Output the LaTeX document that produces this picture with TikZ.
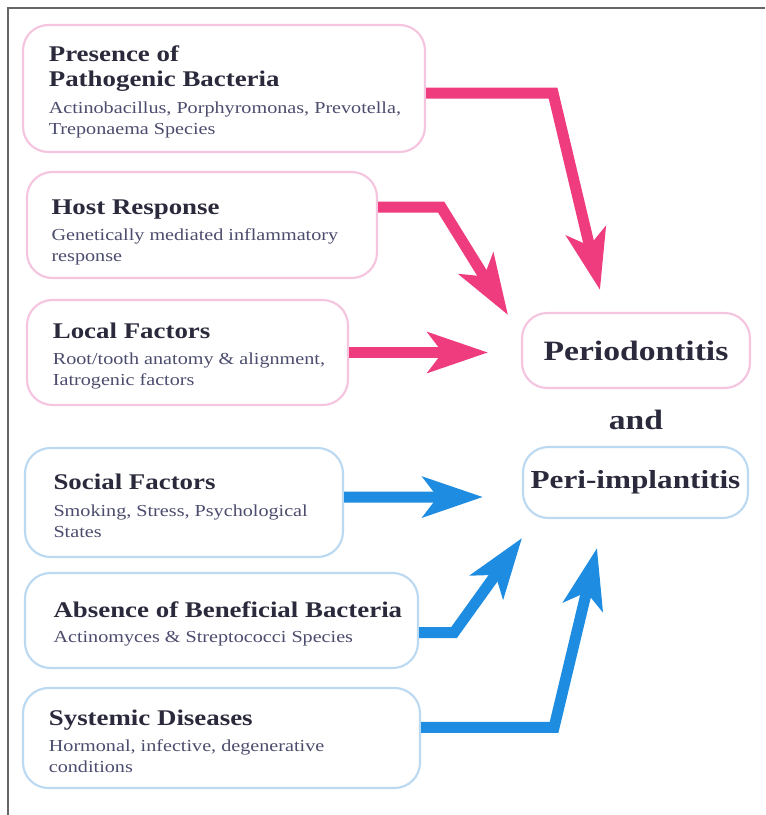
\documentclass[tikz,border=0pt]{standalone}
\usepackage{fontspec}
\setmainfont{Liberation Serif}[FakeStretch=1.2]
\usepackage{tikz}
\usetikzlibrary{positioning,calc,arrows.meta}
\usepackage{xcolor}
\definecolor{pinkline}{HTML}{F5C4DE}
\definecolor{blueline}{HTML}{BCD9F2}
\definecolor{pinkarr}{HTML}{EE3C7E}
\definecolor{bluearr}{HTML}{1E8CE0}
\definecolor{titlecol}{HTML}{2A2A3C}
\definecolor{subcol}{HTML}{4C4C6E}
\newcommand{\factitle}[1]{{\fontsize{16.8}{19}\selectfont\bfseries\color{titlecol}#1}}

\begin{document}
\begin{tikzpicture}[x=0.75pt, y=-0.75pt,
  factor/.style={draw, line width=1.6pt, rounded corners=19pt, fill=white},
  pinkbox/.style={factor, draw=pinkline},
  bluebox/.style={factor, draw=blueline},
  boxtext/.style={align=left, inner sep=0pt, text=subcol, yshift=-2.5pt, font=\fontsize{12.6}{15.75}\selectfont},
  disease/.style={font=\fontsize{21}{25}\selectfont\bfseries, text=titlecol},
  pinkarrow/.style={draw=pinkarr, line width=8.25pt, -{Stealth[length=45pt, width=30pt, inset=11pt]}},
  bluearrow/.style={draw=bluearr, line width=8.25pt, -{Stealth[length=45pt, width=30pt, inset=11pt]}}]
\useasboundingbox (0,0) rectangle (765,815);
\draw[gray!80!black, line width=1.2pt] (765,8) -- (8,8) -- (8,815);
% Risk factors
\node[pinkbox, minimum width=301.5pt, minimum height=95.25pt] (pres) at (224,88.5) {};
\node[boxtext, right=20pt of pres.west] (pres-t) {\factitle{Presence of}\\[3pt]\factitle{Pathogenic Bacteria}\\[4.5pt]Actinobacillus, Porphyromonas, Prevotella,\\Treponaema Species};
\node[pinkbox, minimum width=262.5pt, minimum height=79.5pt] (host) at (202,225) {};
\node[boxtext, right=19pt of host.west, yshift=-3pt] (host-t) {\factitle{Host Response}\\[3.5pt]Genetically mediated inflammatory\\response};
\node[pinkbox, minimum width=240.75pt, minimum height=78.75pt] (local) at (187.5,352.5) {};
\node[boxtext, right=20pt of local.west] (local-t) {\factitle{Local Factors}\\[4pt]Root/tooth anatomy \& alignment,\\Iatrogenic factors};
\node[bluebox, minimum width=238.5pt, minimum height=81.75pt] (social) at (184,502.5) {};
\node[boxtext, right=22pt of social.west] (social-t) {\factitle{Social Factors}\\[4pt]Smoking, Stress, Psychological\\States};
\node[bluebox, minimum width=294.75pt, minimum height=71.25pt] (absence) at (221.5,620.5) {};
\node[boxtext, right=22pt of absence.west] (absence-t) {\factitle{Absence of Beneficial Bacteria}\\[3.5pt]Actinomyces \& Streptococci Species};
\node[bluebox, minimum width=297.75pt, minimum height=75pt] (systemic) at (221.5,738) {};
\node[boxtext, right=20pt of systemic.west] (systemic-t) {\factitle{Systemic Diseases}\\[4pt]Hormonal, infective, degenerative\\conditions};
% Diseases
\node[pinkbox, disease, minimum width=171pt, minimum height=56.25pt] (perio) at (636,350.5) {Periodontitis};
\node[disease] (and) at (636,420) {and};
\node[bluebox, disease, font=\fontsize{19.5}{24}\selectfont\bfseries, minimum width=168.75pt, minimum height=53.25pt] (peri) at (635.5,482.5) {Peri-implantitis};
% Arrow tips
\coordinate (tipA) at (600,290);
\coordinate (tipB) at (508,315);
\coordinate (tipC) at (488,350);
\coordinate (tipD) at (483,497);
\coordinate (tipE) at (522,538);
\coordinate (tipF) at (597,548);
% Arrows
\draw[pinkarrow] ([yshift=-3.5pt]pres.east) -- ++(127,0) -- (tipA);
\draw[pinkarrow] ([yshift=13.5pt]host.east) -- ++(63,0) -- (tipB);
\draw[pinkarrow] (local.east) -- (local.east -| tipC);
\draw[bluearrow] ([yshift=4pt]social.east) -- (tipD);
\draw[bluearrow] ([yshift=-9pt]absence.east) -- ++(35,0) -- (tipE);
\draw[bluearrow] ([yshift=8pt]systemic.east) -- ++(133,0) -- (tipF);
\end{tikzpicture}
\end{document}
